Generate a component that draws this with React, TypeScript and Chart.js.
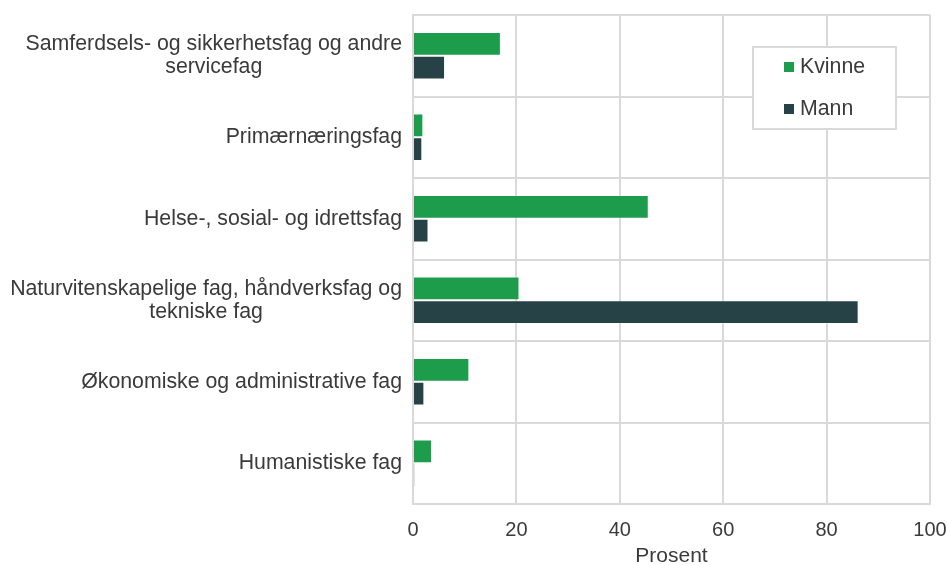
import React, { useEffect, useRef } from "react";
import { Chart, registerables } from "chart.js";

Chart.register(...registerables);

const categories: string[][] = [
  ["Samferdsels- og sikkerhetsfag og andre", "servicefag"],
  ["Primærnæringsfag"],
  ["Helse-, sosial- og idrettsfag"],
  ["Naturvitenskapelige fag, håndverksfag og", "tekniske fag"],
  ["Økonomiske og administrative fag"],
  ["Humanistiske fag"],
];

const seriesNames = ["Kvinne", "Mann"];
const kvinneValues = [17.0, 2.0, 45.6, 20.6, 10.9, 3.7];
const mannValues = [6.2, 1.8, 3.0, 86.2, 2.2, 0.3];

const xTicks = [0, 20, 40, 60, 80, 100];
const axisTitle = "Prosent";

const GREEN = "#1d9d4b";
const DARK = "#264247";
const GRID = "#d9d9d9";
const TEXT = "#3a3a3a";
const FONT = '"Liberation Sans", Arial, Helvetica, sans-serif';

const labelPlugin = {
  id: "blockLabels",
  afterDraw(chart: any) {
    const ctx = chart.ctx;
    const yScale = chart.scales.y;
    const area = chart.chartArea;
    const labels = chart.data.labels as string[][];
    ctx.save();
    ctx.font = `21.3px ${FONT}`;
    ctx.fillStyle = TEXT;
    ctx.textAlign = "center";
    ctx.textBaseline = "middle";
    const rightEdge = area.left - 11;
    const lineH = 23;
    labels.forEach((lines, i) => {
      const cy = yScale.getPixelForValue(i);
      const w = Math.max(...lines.map((l) => ctx.measureText(l).width));
      const cx = rightEdge - w / 2;
      lines.forEach((l, j) => {
        const y = cy - ((lines.length - 1) * lineH) / 2 + j * lineH;
        ctx.fillText(l, cx, y);
      });
    });
    ctx.restore();
  },
};

const legendPlugin = {
  id: "boxLegend",
  afterDraw(chart: any) {
    const ctx = chart.ctx;
    const area = chart.chartArea;
    const left = area.right - 178;
    const top = area.top + 31;
    const w = 145;
    const h = 84;
    ctx.save();
    ctx.fillStyle = "#ffffff";
    ctx.fillRect(left, top, w, h);
    ctx.strokeStyle = GRID;
    ctx.lineWidth = 2;
    ctx.strokeRect(left + 1, top + 1, w - 2, h - 2);
    ctx.font = `21.3px ${FONT}`;
    ctx.textAlign = "left";
    ctx.textBaseline = "middle";
    chart.data.datasets.forEach((ds: any, i: number) => {
      const cy = top + 21 + i * 42;
      ctx.fillStyle = ds.backgroundColor;
      ctx.fillRect(left + 32, cy - 5, 10, 10);
      ctx.fillStyle = TEXT;
      ctx.fillText(ds.label, left + 48, cy);
    });
    ctx.restore();
  },
};

export default function App() {
  const ref = useRef<HTMLCanvasElement | null>(null);

  useEffect(() => {
    document.body.style.margin = "0";
    if (!ref.current) return;
    const chart = new Chart(ref.current, {
      type: "bar",
      data: {
        labels: categories,
        datasets: [
          {
            label: seriesNames[0],
            data: kvinneValues,
            backgroundColor: GREEN,
            borderColor: "rgba(255,255,255,0.3)",
            borderWidth: 1,
            categoryPercentage: 0.58,
            barPercentage: 1,
          },
          {
            label: seriesNames[1],
            data: mannValues,
            backgroundColor: DARK,
            borderColor: "rgba(255,255,255,0.25)",
            borderWidth: 1,
            categoryPercentage: 0.58,
            barPercentage: 1,
          },
        ],
      },
      options: {
        indexAxis: "y",
        animation: false,
        responsive: false,
        devicePixelRatio: 1,
        layout: { padding: { top: 15, right: 18, bottom: 0, left: 0 } },
        plugins: {
          legend: { display: false },
          tooltip: { enabled: false },
        },
        scales: {
          x: {
            type: "linear",
            min: 0,
            max: 100,
            afterBuildTicks: (scale: any) => {
              scale.ticks = xTicks.map((v) => ({ value: v }));
            },
            afterFit: (scale: any) => {
              scale.height = 61;
              scale.paddingLeft = 0;
              scale.paddingRight = 0;
            },
            grid: { color: GRID, lineWidth: 2, drawTicks: false },
            border: { color: GRID, width: 2 },
            ticks: {
              padding: 16,
              color: TEXT,
              font: { family: FONT, size: 20, lineHeight: 1 },
            },
            title: {
              display: true,
              text: axisTitle,
              color: TEXT,
              font: { family: FONT, size: 21, lineHeight: 1 },
              padding: { top: 0, bottom: -2 },
            },
          },
          y: {
            type: "category",
            afterFit: (scale: any) => {
              scale.width = 413;
              scale.paddingTop = 0;
              scale.paddingBottom = 0;
            },
            grid: { color: GRID, lineWidth: 2, drawTicks: false, offset: true },
            border: { color: GRID, width: 2 },
            ticks: { display: false },
          },
        },
      },
      plugins: [labelPlugin, legendPlugin],
    } as any);
    return () => chart.destroy();
  }, []);

  return (
    <div style={{ width: 948, height: 565, position: "relative" }}>
      <canvas ref={ref} width={948} height={565} style={{ width: 948, height: 565, display: "block" }} />
    </div>
  );
}
